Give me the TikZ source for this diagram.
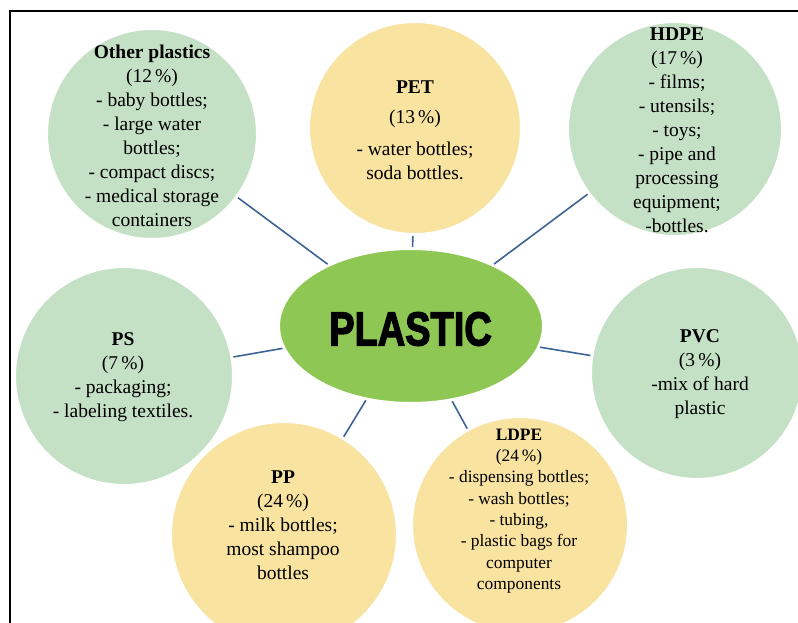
\documentclass[tikz,border=0pt]{standalone}
\usepackage{fontspec}
\usepackage{graphicx}
\usetikzlibrary{shapes.geometric}
\setmainfont{Liberation Serif}
\newfontfamily\heavyfont[BoldFeatures={FakeBold=3}]{Liberation Sans}
\definecolor{lgreen}{RGB}{196,224,197}
\definecolor{lyellow}{RGB}{249,227,161}
\definecolor{cgreen}{RGB}{142,199,84}
\definecolor{conn}{RGB}{62,100,150}
\tikzset{
  bub/.style={circle, draw=white, line width=3pt, inner sep=0pt},
  gbub/.style={bub, fill=lgreen},
  ybub/.style={bub, fill=lyellow},
  txt/.style={align=center, inner sep=0pt, font=\fontsize{19.5}{24}\selectfont},
  stxt/.style={align=center, inner sep=0pt, font=\fontsize{17.4}{21.3}\selectfont},
  link/.style={draw=conn, line width=1.6pt},
  frameline/.style={line width=2pt, black}
}
\begin{document}
\begin{tikzpicture}[x=1pt,y=-1pt]
\useasboundingbox (0,0) rectangle (798,623);
\clip (0,0) rectangle (798,623);
\fill[white] (0,0) rectangle (798,623);
\draw[frameline] (10,624) -- (10,11) -- (799,11);

\node[ellipse, draw=white, line width=3pt, fill=cgreen, minimum width=265, minimum height=155, inner sep=0pt] (plastic) at (411,326) {};
\node[inner sep=0pt] (plastictxt) at (410.5,329) {\scalebox{0.8}[1]{\fontsize{47.5}{50}\selectfont\heavyfont\bfseries PLASTIC}};

\node[gbub, minimum size=211] (other) at (152,134) {};
\node[ybub, minimum size=213] (pet) at (415,128) {};
\node[gbub, minimum size=215] (hdpe) at (675,129) {};
\node[gbub, minimum size=219] (ps) at (124,376) {};
\node[gbub, minimum size=213] (pvc) at (697,373) {};
\node[ybub, minimum size=227] (pp) at (284,535) {};
\node[ybub, minimum size=217] (ldpe) at (520,525) {};

\draw[link] (other) -- (plastic);
\draw[link] (pet) -- (plastic);
\draw[link] (hdpe) -- (plastic);
\draw[link] (ps) -- (plastic);
\draw[link] (pvc) -- (plastic);
\draw[link] (pp) -- (plastic);
\draw[link] (ldpe) -- (plastic);

\node[txt] (othertxt) at (152,136) {\textbf{Other plastics}\\(12\,\%)\\- baby bottles;\\- large water\\bottles;\\- compact discs;\\- medical storage\\containers};
\node[txt] (pettxt) at (415,130) {\textbf{PET}\\[6pt](13\,\%)\\[8pt]- water bottles;\\soda bottles.};
\node[txt] (hdpetxt) at (677,130) {\textbf{HDPE}\\(17\,\%)\\- films;\\- utensils;\\- toys;\\- pipe and\\processing\\equipment;\\-bottles.};
\node[txt] (pstxt) at (123,377) {\textbf{PS}\\(7\,\%)\\- packaging;\\- labeling textiles.};
\node[txt] (pvctxt) at (700,374) {\textbf{PVC}\\(3\,\%)\\-mix of hard\\plastic};
\node[txt] (pptxt) at (283,525) {\textbf{PP}\\(24\,\%)\\- milk bottles;\\most shampoo\\bottles};
\node[stxt] (ldpetxt) at (519,511) {\textbf{LDPE}\\(24\,\%)\\- dispensing bottles;\\- wash bottles;\\- tubing,\\- plastic bags for\\computer\\components};
\end{tikzpicture}
\end{document}
